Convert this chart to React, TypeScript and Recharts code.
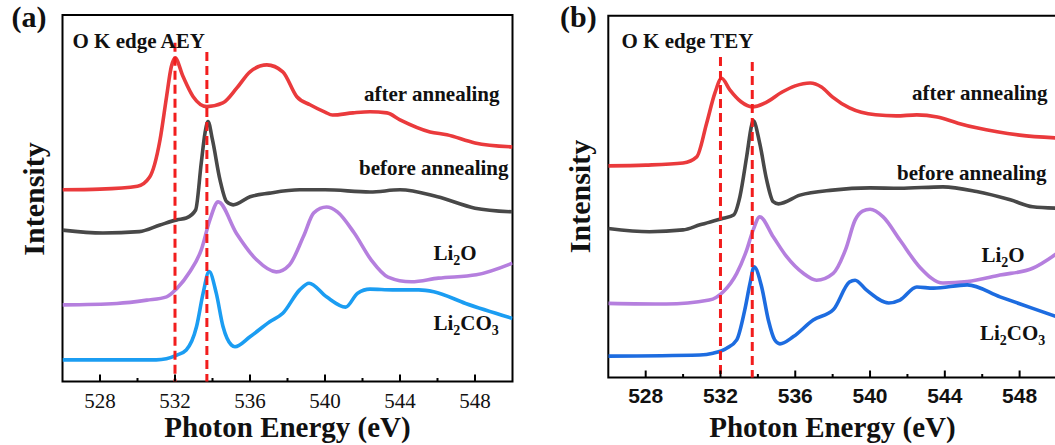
import React from "react";
import { LineChart, Line, XAxis, YAxis, ReferenceLine, ReferenceArea } from "recharts";

// O K-edge XAS spectra, AEY (a) and TEY (b). Curves are offset-stacked,
// intensity in arbitrary units (0-100 of the plot height).
type Pt = [number, number];

const X_DOMAIN: [number, number] = [526, 550];
const X_TICKS = [528, 530, 532, 534, 536, 538, 540, 542, 544, 546, 548];
const X_LABELED = [528, 532, 536, 540, 544, 548];
const EDGE_LINES = [532.0, 533.7];
const EDGE_TOPS_AEY = [92.4, 89.9];
const EDGE_TOPS_TEY = [88.6, 87.2];

// ---- (a) AEY
const AFTER_AEY: Pt[] = [
  [526, 52.3], [528, 52.5], [530, 53.3], [530.65, 55.8], [531.2, 65.9], [531.55, 77.7],
  [531.8, 85.8], [532.0, 88.3], [532.43, 83.2], [532.97, 77.7], [533.7, 75.0], [534.55, 76.0],
  [535.3, 80.1], [536.0, 84.5], [536.9, 86.4], [537.75, 84.5], [538.5, 77.7], [539.2, 75.5],
  [540.0, 73.5], [540.4, 72.7], [541.5, 73.3], [542.4, 73.6], [543.3, 73.3], [544.0, 71.4],
  [545.6, 68.1], [546.5, 67.3], [548.0, 65.1], [550, 64.0],
];
const BEFORE_AEY: Pt[] = [
  [526, 41.3], [528.15, 40.5], [530.1, 40.9], [531.2, 42.7], [532.1, 44.1], [532.6, 44.6],
  [533.1, 46.8], [533.4, 59.6], [533.6, 67.8], [533.76, 70.9], [534.0, 65.9], [534.4, 55.0],
  [534.75, 49.1], [535.1, 48.2], [536.0, 50.4], [537.05, 51.4], [538.65, 52.3], [540, 52.3],
  [542.4, 51.7], [544, 52.3], [546, 50.4], [548, 47.3], [550, 46.3],
];
const LI2O_AEY: Pt[] = [
  [526, 20.9], [528.9, 21.3], [530.5, 22.2], [531.55, 23.1], [532.1, 25.4], [532.8, 30.0],
  [533.4, 35.9], [533.86, 44.1], [534.3, 49.0], [535.28, 40.4], [536.35, 33.2], [537.4, 29.9],
  [538.1, 31.8], [538.86, 39.7], [539.4, 46.0], [540.08, 47.6], [540.66, 46.3], [541.56, 40.5],
  [542.46, 33.2], [543.36, 28.5], [544.6, 27.2], [546.05, 28.2], [548.07, 29.1], [550, 32.3],
];
const LI2CO3_AEY: Pt[] = [
  [526, 5.9], [531.0, 5.9], [532.1, 7.2], [532.6, 8.6], [533.15, 15.0], [533.5, 24.1],
  [533.82, 30.0], [534.2, 24.1], [534.56, 15.0], [535.0, 10.0], [535.2, 9.5], [536.0, 12.2],
  [537.05, 16.3], [537.75, 18.6], [538.65, 25.0], [539.15, 26.8], [540.08, 23.1], [541.1, 20.3],
  [541.74, 24.1], [542.4, 25.2], [543.6, 25.0], [545.0, 25.0], [545.8, 24.5], [547.5, 21.3],
  [550, 17.2],
];

// ---- (b) TEY
const AFTER_TEY: Pt[] = [
  [526, 58.5], [528, 58.7], [530, 59.3], [530.73, 61.0], [531.26, 70.3], [531.7, 78.6],
  [532.06, 82.7], [532.5, 79.5], [533.1, 76.2], [533.7, 74.8], [534.4, 75.9], [535.3, 78.9],
  [536.0, 80.6], [536.8, 81.4], [537.4, 80.3], [538.0, 77.5], [538.9, 74.5], [540.3, 72.6],
  [541.4, 72.3], [542.5, 72.6], [543.6, 72.0], [544.7, 70.3], [545.7, 69.0], [546.8, 67.9],
  [548, 67.0], [550, 66.2],
];
const BEFORE_TEY: Pt[] = [
  [526, 41.2], [528.2, 40.3], [530.0, 40.8], [530.9, 42.2], [532.15, 44.0], [532.7, 44.9],
  [533.04, 50.0], [533.4, 61.0], [533.67, 69.8], [533.75, 71.0], [534.1, 64.7], [534.47, 54.6],
  [534.82, 48.6], [535.1, 48.0], [536.25, 50.4], [538.0, 51.8], [540.0, 52.4], [541.6, 52.3],
  [543.9, 52.7], [545.7, 51.4], [547.5, 49.1], [548.7, 47.2], [550, 46.8],
];
const LI2O_TEY: Pt[] = [
  [526, 20.5], [529.1, 20.3], [531.4, 21.4], [532.15, 23.7], [532.87, 28.8], [533.4, 35.2],
  [533.75, 40.8], [534.1, 44.4], [534.82, 38.9], [535.54, 33.4], [536.43, 28.8], [537.14, 26.9],
  [538.03, 28.8], [538.7, 35.5], [539.2, 43.5], [539.6, 46.0], [540.0, 46.5], [540.7, 44.4],
  [541.6, 38.0], [542.66, 30.5], [543.9, 26.1], [545.2, 26.5], [546.95, 28.3], [548.7, 30.2],
  [550, 34.3],
];
const LI2CO3_TEY: Pt[] = [
  [526, 5.9], [530.9, 6.2], [531.6, 6.7], [532.33, 8.1], [532.87, 10.4], [533.3, 18.7],
  [533.58, 26.0], [533.8, 30.6], [534.2, 25.1], [534.56, 15.9], [534.9, 10.4], [535.18, 9.3],
  [535.9, 11.3], [536.96, 15.9], [538.03, 18.7], [538.9, 26.4], [539.2, 26.9], [539.8, 24.2],
  [541.0, 20.6], [541.6, 21.4], [542.5, 25.0], [543.4, 24.7], [545.2, 25.6], [546.95, 22.3],
  [548.7, 19.1], [550, 16.8],
];

const RED = "#ea3a3c";
const GRAY = "#484848";
const PURPLE = "#b57fde";
const BLUE_AEY = "#1b9df2";
const BLUE_TEY = "#1d6ce0";
const DASH = "#f21d1d";
const SERIF = '"Liberation Serif", "Times New Roman", serif';
const SANS = '"Liberation Sans", Arial, sans-serif';

const toPoints = (pts: Pt[]) => pts.map(([e, v]) => ({ e, v }));

type Series = { name: string; color: string; pts: Pt[] };

function makeTick(font: string, weight: string | number, dy: number) {
  return (props: any) => {
    const { x, y, payload } = props;
    const major = X_LABELED.includes(payload.value);
    return (
      <g>
        <line x1={x} x2={x} y1={y} y2={y - (major ? 7 : 3.5)} stroke="#000" strokeWidth={2} />
        {major && (
          <text x={x} y={y + dy} textAnchor="middle" fontFamily={font} fontWeight={weight} fontSize={21} fill="#111">
            {payload.value}
          </text>
        )}
      </g>
    );
  };
}

function Panel({
  left,
  margin,
  axisHeight,
  series,
  tops,
  tick,
}: {
  left: number;
  margin: { top: number; left: number; right: number };
  axisHeight: number;
  series: Series[];
  tops: number[];
  tick: (p: any) => React.ReactElement;
}) {
  return (
    <div style={{ position: "absolute", left, top: 0 }}>
      <LineChart width={530} height={445} margin={{ ...margin, bottom: 0 }}>
        <XAxis
          type="number"
          dataKey="e"
          domain={X_DOMAIN}
          ticks={X_TICKS}
          interval={0}
          allowDataOverflow
          axisLine={false}
          tickLine={false}
          tickSize={0}
          tickMargin={0}
          height={axisHeight}
          tick={tick}
        />
        <YAxis type="number" dataKey="v" domain={[0, 100]} hide allowDataOverflow />
        <ReferenceArea x1={526} x2={550} y1={0} y2={100} fill="none" fillOpacity={0} stroke="#000" strokeWidth={2} ifOverflow="visible" />
        {series.map((s) => (
          <Line
            key={s.name}
            name={s.name}
            data={toPoints(s.pts)}
            dataKey="v"
            type="monotone"
            stroke={s.color}
            strokeWidth={3.6}
            dot={false}
            activeDot={false}
            isAnimationActive={false}
          />
        ))}
        {EDGE_LINES.map((x, i) => (
          <ReferenceLine
            key={x}
            segment={[{ x, y: tops[i] }, { x, y: 0 }]}
            stroke={DASH}
            strokeWidth={3}
            strokeDasharray="9 5"
            ifOverflow="visible"
          />
        ))}
      </LineChart>
    </div>
  );
}

export default function App() {
  const aey: Series[] = [
    { name: "after annealing", color: RED, pts: AFTER_AEY },
    { name: "before annealing", color: GRAY, pts: BEFORE_AEY },
    { name: "Li2O", color: PURPLE, pts: LI2O_AEY },
    { name: "Li2CO3", color: BLUE_AEY, pts: LI2CO3_AEY },
  ];
  const tey: Series[] = [
    { name: "after annealing", color: RED, pts: AFTER_TEY },
    { name: "before annealing", color: GRAY, pts: BEFORE_TEY },
    { name: "Li2O", color: PURPLE, pts: LI2O_TEY },
    { name: "Li2CO3", color: BLUE_TEY, pts: LI2CO3_TEY },
  ];
  const lbl = { fontFamily: SERIF, fontWeight: "bold" as const, fill: "#111" };

  return (
    <div style={{ position: "absolute", left: 0, top: 0, width: 1055, height: 445, overflow: "hidden", background: "#fff" }}>
      <Panel
        left={0}
        margin={{ top: 15, left: 62.5, right: 17.5 }}
        axisHeight={63.5}
        series={aey}
        tops={EDGE_TOPS_AEY}
        tick={makeTick(SERIF, "normal", 26)}
      />
      <Panel
        left={545}
        margin={{ top: 15.7, left: 63.3, right: 18 }}
        axisHeight={67.5}
        series={tey}
        tops={EDGE_TOPS_TEY}
        tick={makeTick(SANS, "bold", 25)}
      />
      <svg width={1055} height={445} style={{ position: "absolute", left: 0, top: 0, pointerEvents: "none" }}>
        {/* panel (a) */}
        <text x={11.5} y={27} fontSize={30} {...lbl}>(a)</text>
        <text x={72.5} y={47.5} fontSize={21} {...lbl}>O K edge AEY</text>
        <text x={364} y={101} fontSize={21} {...lbl}>after annealing</text>
        <text x={359} y={175} fontSize={21} {...lbl}>before annealing</text>
        <text x={433.5} y={259.5} fontSize={21} {...lbl}>
          Li<tspan fontSize={14} dy={5}>2</tspan><tspan dy={-5}>O</tspan>
        </text>
        <text x={433.5} y={330} fontSize={21} {...lbl}>
          Li<tspan fontSize={14} dy={5}>2</tspan><tspan dy={-5}>CO</tspan><tspan fontSize={14} dy={5}>3</tspan>
        </text>
        <text x={43.6} y={199} fontSize={30} textAnchor="middle" transform="rotate(-90 43.6 199)" {...lbl}>Intensity</text>
        <text x={287.5} y={437} fontSize={29} textAnchor="middle" {...lbl}>Photon Energy (eV)</text>

        {/* panel (b) */}
        <text x={560} y={27} fontSize={30} {...lbl}>(b)</text>
        <text x={621.5} y={47.5} fontSize={21} {...lbl}>O K edge TEY</text>
        <text x={912} y={100} fontSize={21} {...lbl}>after annealing</text>
        <text x={897} y={180} fontSize={21} {...lbl}>before annealing</text>
        <text x={981.5} y={261.5} fontSize={21} {...lbl}>
          Li<tspan fontSize={14} dy={5}>2</tspan><tspan dy={-5}>O</tspan>
        </text>
        <text x={980} y={340} fontSize={21} {...lbl}>
          Li<tspan fontSize={14} dy={5}>2</tspan><tspan dy={-5}>CO</tspan><tspan fontSize={14} dy={5}>3</tspan>
        </text>
        <text x={590.4} y={196.5} fontSize={30} textAnchor="middle" transform="rotate(-90 590.4 196.5)" {...lbl}>Intensity</text>
        <text x={832.5} y={437} fontSize={29} textAnchor="middle" {...lbl}>Photon Energy (eV)</text>
      </svg>
    </div>
  );
}
